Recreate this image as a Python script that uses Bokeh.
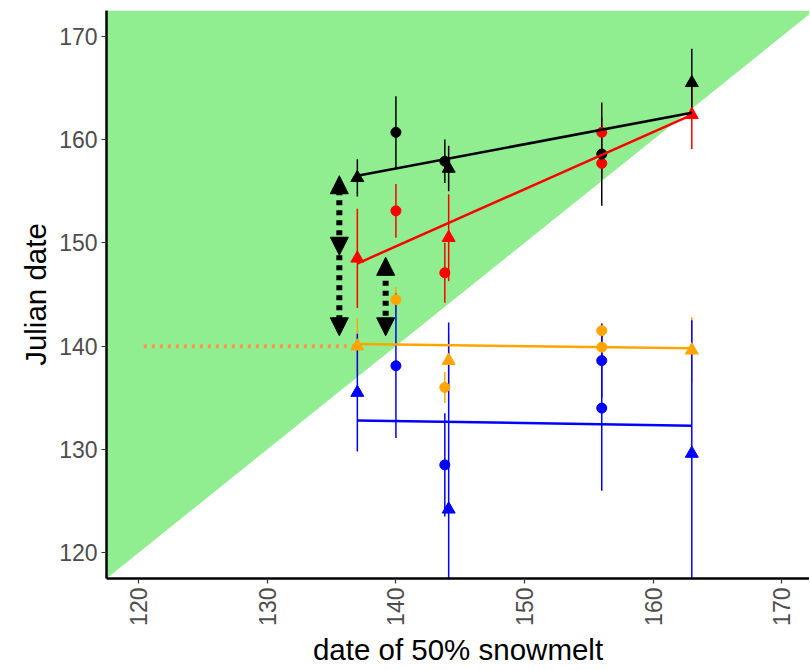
import math
from bokeh.plotting import figure
from bokeh.models import Range1d, FixedTicker, Arrow, NormalHead, ColumnDataSource
from bokeh.embed import file_html
from bokeh.resources import INLINE

# ---------------- data ----------------
x_ticks = [120, 130, 140, 150, 160, 170]
y_ticks = [120, 130, 140, 150, 160, 170]

diag_lo = 117.5
diag_hi = 172.5

circ_x = [140, 143.8, 156, 156]
tri_x = [137, 144.1, 163]

black_circ_x = [140, 143.8, 156]
black_circ_y = [160.7, 157.9, 158.6]
black_circ_err = [3.5, 2.1, 5.0]
black_tri_y = [156.3, 157.2, 165.5]
black_tri_err = [1.8, 2.2, 3.3]

red_circ_y = [153.1, 147.1, 160.7, 157.7]
red_circ_err = [2.6, 2.9, 1.5, 1.5]
red_tri_y = [148.5, 150.5, 162.4]
red_tri_err = [4.8, 4.2, 3.3]

orange_circ_y = [144.5, 136.0, 141.5, 139.9]
orange_circ_err = [1.2, 1.5, 0.7, 1.0]
orange_tri_y = [140.0, 138.6, 139.6]
orange_tri_err = [2.7, 2.5, 3.2]

blue_circ_y = [138.1, 128.5, 138.6, 134.0]
blue_circ_err = [7.0, 5.0, 3.6, 8.0]
blue_tri_y = [135.5, 124.2, 129.6]
blue_tri_err = [5.7, 18.1, 12.9]

fit_x = [137, 163]
black_fit = [156.5, 162.6]
red_fit = [148.0, 162.4]
orange_fit = [140.2, 139.8]
blue_fit = [132.8, 132.3]

ref_x = [120.4, 137]
ref_y = [140, 140]

arrow1_x = 135.6
arrow1_top = 156.5
arrow1_mid = 148.8
arrow1_bot = 141.0
arrow2_x = 139.2
arrow2_top = 148.6
arrow2_bot = 141.0

FONT = "Liberation Sans"

# ---------------- figure ----------------
p = figure(frame_width=703, frame_height=568,
           x_range=Range1d(117.5, 172.15), y_range=Range1d(117.5, 172.5),
           output_backend="svg", toolbar_location=None,
           min_border_left=106, min_border_top=10, min_border_right=0,
           min_border_bottom=40)
p.outline_line_color = None
p.background_fill_color = "white"
p.border_fill_color = "white"
p.xgrid.visible = False
p.ygrid.visible = False

# green region above the 1:1 line
p.patch([diag_lo, diag_lo, diag_hi], [diag_lo, diag_hi, diag_hi],
        fill_color="#90EE90", line_color=None)

# dotted reference line
p.line(ref_x, ref_y, line_color="#FA9652", line_width=4, line_dash="3 5")


def bars(xs, ys, errs, color):
    src = ColumnDataSource(dict(x=xs, lo=[y - e for y, e in zip(ys, errs)],
                                hi=[y + e for y, e in zip(ys, errs)]))
    p.segment(x0="x", y0="lo", x1="x", y1="hi", source=src,
              line_color=color, line_width=1.5)


# error bars
bars(circ_x, orange_circ_y, orange_circ_err, "orange")
bars(tri_x, orange_tri_y, orange_tri_err, "orange")
bars(circ_x, blue_circ_y, blue_circ_err, "blue")
bars(tri_x, blue_tri_y, blue_tri_err, "blue")
bars(circ_x, red_circ_y, red_circ_err, "red")
bars(tri_x, red_tri_y, red_tri_err, "red")
bars(black_circ_x, black_circ_y, black_circ_err, "black")
bars(tri_x, black_tri_y, black_tri_err, "black")

# points
for cx, cy, ty, col in [(circ_x, orange_circ_y, orange_tri_y, "orange"),
                        (circ_x, blue_circ_y, blue_tri_y, "blue"),
                        (circ_x, red_circ_y, red_tri_y, "red"),
                        (black_circ_x, black_circ_y, black_tri_y, "black")]:
    p.scatter(cx, cy, marker="circle", size=10, fill_color=col, line_color=col)
    p.scatter(tri_x, ty, marker="triangle", size=13, fill_color=col, line_color=col)

# fitted lines
p.line(fit_x, orange_fit, line_color="orange", line_width=2.5)
p.line(fit_x, blue_fit, line_color="blue", line_width=2.5)
p.line(fit_x, red_fit, line_color="red", line_width=2.5)
p.line(fit_x, black_fit, line_color="black", line_width=2.5)


def head():
    return NormalHead(size=18, fill_color="black", line_color="black", line_width=1)


p.add_layout(Arrow(start=head(), end=head(), x_start=arrow1_x, y_start=arrow1_mid,
                   x_end=arrow1_x, y_end=arrow1_top, line_width=6, line_dash="5 5",
                   line_color="black"))
p.add_layout(Arrow(end=head(), x_start=arrow1_x, y_start=arrow1_mid,
                   x_end=arrow1_x, y_end=arrow1_bot, line_width=6, line_dash="5 5",
                   line_color="black"))
p.add_layout(Arrow(start=head(), end=head(), x_start=arrow2_x, y_start=arrow2_bot,
                   x_end=arrow2_x, y_end=arrow2_top, line_width=6, line_dash="5 5",
                   line_color="black"))

# axes
p.xaxis.ticker = FixedTicker(ticks=x_ticks)
p.yaxis.ticker = FixedTicker(ticks=y_ticks)
for ax in (p.xaxis[0], p.yaxis[0]):
    ax.axis_line_color = "black"
    ax.axis_line_width = 2.5
    ax.major_tick_line_color = "#333333"
    ax.major_tick_line_width = 1.2
    ax.major_tick_out = 5
    ax.major_tick_in = 0
    ax.minor_tick_line_color = None
    ax.major_label_text_font = FONT
    ax.major_label_text_font_size = "23px"
    ax.major_label_text_color = "#4D4D4D"
    ax.major_label_standoff = 4
    ax.axis_label_text_font = FONT
    ax.axis_label_text_font_size = "29.5px"
    ax.axis_label_text_font_style = "normal"
    ax.axis_label_text_color = "black"
    ax.axis_label_standoff = 4

p.xaxis.axis_label = "date of 50% snowmelt"
p.yaxis.axis_label = "Julian date"
p.xaxis.major_label_orientation = math.pi / 2

open("out.html", "w").write(file_html(p, INLINE))
